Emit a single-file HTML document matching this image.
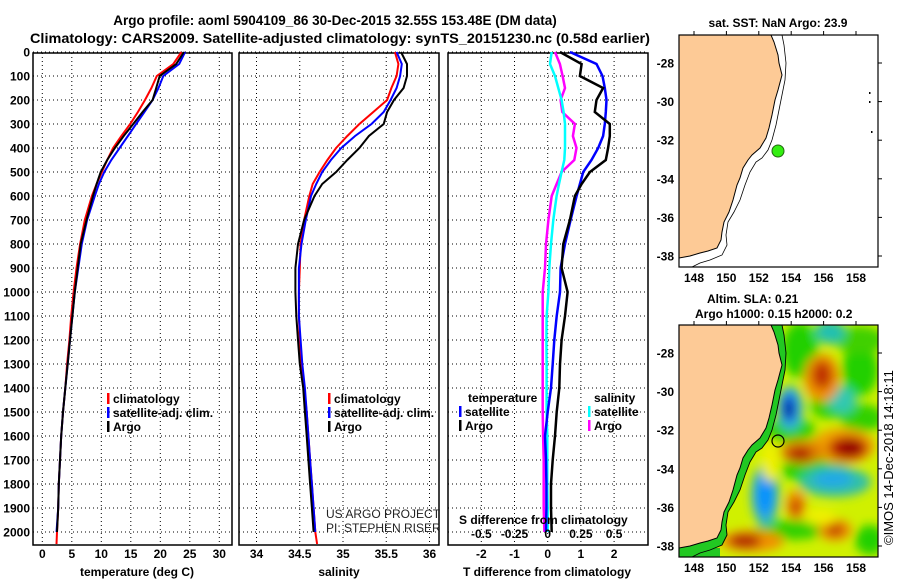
<!DOCTYPE html>
<html><head><meta charset="utf-8"><style>
html,body{margin:0;padding:0;background:#fff;}
svg{display:block;font-family:"Liberation Sans",Arial,sans-serif;}
</style></head><body>
<svg id="chart" width="900" height="580" viewBox="0 0 900 580" xmlns="http://www.w3.org/2000/svg">
<defs>
<clipPath id="m1clip"><rect x="679" y="35" width="199" height="232"/></clipPath>
<clipPath id="m2clip"><rect x="679" y="325" width="199" height="232"/></clipPath>
<filter id="blur" x="-50%" y="-50%" width="200%" height="200%"><feGaussianBlur stdDeviation="5"/></filter>
</defs>
<text x="335" y="25" text-anchor="middle" font-weight="bold" font-size="13.5">Argo profile: aoml 5904109_86 30-Dec-2015 32.55S 153.48E (DM data)</text>
<text x="30" y="43" font-weight="bold" font-size="13.5" textLength="620" lengthAdjust="spacingAndGlyphs">Climatology: CARS2009. Satellite-adjusted climatology: synTS_20151230.nc (0.58d earlier)</text>
<g id="panels"></g>
<g id="maps"></g>
</svg>
<script>
// ---- profile data ----
const depths = [0,50,100,150,200,250,300,350,400,450,500,550,600,700,800,900,1000,1100,1200,1300,1400,1500,1600,1700,1800,1900,2000,2050];
const depthTicks = [0,100,200,300,400,500,600,700,800,900,1000,1100,1200,1300,1400,1500,1600,1700,1800,1900,2000];
const tempClim = [23.6,22.2,19.4,18.5,17.4,16.2,14.9,13.4,12.0,11.0,10.1,9.2,8.4,7.2,6.4,5.8,5.3,4.9,4.6,4.2,3.9,3.5,3.2,3.0,2.8,2.7,2.5,2.4];
const tempSat = [24.2,23.2,20.5,19.7,18.7,17.3,15.9,14.5,13.1,11.7,10.5,9.6,8.9,7.6,6.7,6.1,5.5,5.1,4.7,4.3,3.9,3.5,3.2,3.0,2.8,2.7,2.4,null];
const tempArgo = [24.0,22.7,19.9,19.3,18.7,17.0,15.4,13.8,12.3,11.0,9.9,9.2,8.6,7.5,6.5,6.0,5.5,5.1,4.7,4.3,3.9,3.5,3.2,3.0,2.8,2.7,2.5,null];
const salClim = [35.60,35.64,35.62,35.56,35.51,35.35,35.19,35.05,34.92,34.82,34.73,34.65,34.61,34.55,34.51,34.50,34.49,34.49,34.50,34.52,34.55,34.58,34.60,34.62,34.64,34.66,34.68,34.70];
const salSat = [35.62,35.68,35.66,35.62,35.55,35.47,35.33,35.14,34.98,34.86,34.76,34.69,34.63,34.57,34.52,34.49,34.49,34.49,34.51,34.53,34.56,34.58,34.60,34.62,34.64,34.66,34.68,null];
const salArgo = [35.67,35.74,35.74,35.70,35.59,35.51,35.47,35.30,35.19,35.05,34.92,34.76,34.67,34.55,34.48,34.45,34.45,34.46,34.48,34.50,34.54,34.56,34.58,34.60,34.62,34.64,34.66,null];
const dTArgo = [0.37,1.02,0.97,1.67,1.47,1.42,1.87,1.87,1.82,1.75,1.27,1.02,0.82,0.67,0.47,0.42,0.6,0.52,0.42,0.37,0.35,0.27,0.22,0.15,0.1,0.1,0.12,null];
const dTSat = [0.67,1.47,1.65,1.72,1.77,1.75,1.72,1.67,1.52,1.32,1.07,0.97,0.87,0.69,0.52,0.39,0.37,0.27,0.2,0.15,0.1,0.0,-0.08,-0.05,-0.04,-0.04,-0.05,null];
const dSArgo = [0.055,0.092,0.112,0.13,0.097,0.11,0.205,0.19,0.217,0.2,0.105,0.067,0.03,0.005,-0.013,-0.02,-0.038,-0.038,-0.038,-0.038,-0.038,-0.038,-0.035,-0.03,-0.03,-0.03,-0.025,null];
const dSSat = [0.03,0.017,0.055,0.08,0.105,0.12,0.13,0.13,0.13,0.125,0.105,0.085,0.067,0.042,0.025,0.012,0.005,-0.008,-0.01,-0.008,-0.008,-0.008,-0.003,-0.003,-0.003,0,0,null];
const tempTicks = [0,5,10,15,20,25,30];
const salTicks = [34,34.5,35,35.5,36];
const salTickLabels = ["34","34.5","35","35.5","36"];
const dTTicks = [-2,-1,0,1,2];
const dSTickVals = [-0.5,-0.25,0,0.25,0.5];
const dSTickLabels = ["-0.5","-0.25","0","0.25","0.5"];

const NS="http://www.w3.org/2000/svg";
function mk(tag, attrs, parent){const e=document.createElementNS(NS,tag);for(const k in attrs)e.setAttribute(k,attrs[k]);parent.appendChild(e);return e;}
const yD = d => 52 + 0.24*d;
const xT = t => 42.3 + 5.9*t;
const xS = s => 256.5 + 86.5*(s-34);
const xDT = v => 547.7 + 33.2*v;
const xDS = v => 547.7 + 132.8*v;
const TOP=53, BOT=545;
const panels=document.getElementById('panels');

function frame(x0,x1,name,vx){
  const g=mk('g',{},panels);
  
  
  depthTicks.forEach(d=>{
    const gl=mk('line',{x1:x0,x2:x1,y1:yD(d),y2:yD(d),stroke:'#000','stroke-width':1,'stroke-dasharray':'1,3'},g);
    
    
  });
  vx.forEach(x=>{
    const gl=mk('line',{x1:x,x2:x,y1:TOP,y2:BOT,stroke:'#000','stroke-width':1,'stroke-dasharray':'1,3'},g);
    
    
  });
  const r=mk('rect',{x:x0,y:TOP,width:x1-x0,height:BOT-TOP,fill:'none',stroke:'#000','stroke-width':1.5},g);
  
  
  return g;
}
function series(g,vals,xf,color,name,w){
  let pts=[];
  vals.forEach((v,i)=>{ if(v!==null) pts.push(xf(v).toFixed(1)+','+yD(depths[i]).toFixed(1)); });
  const p=mk('polyline',{points:pts.join(' '),fill:'none',stroke:color,'stroke-width':w||2,'stroke-linejoin':'miter'},g);
  
  
}
function text(g,x,y,s,opts,name){
  const t=mk('text',Object.assign({x:x,y:y,'font-weight':'bold','font-size':12},opts||{}),g);
  t.textContent=s;
  
  
  return t;
}
function legendItem(g,x,y,color,label,name){
  const b=mk('rect',{x:x,y:y-10,width:2.5,height:11,fill:color},g);
  
  
  text(g,x+6,y,label,{},name+'-label');
}

const ya=mk('g',{},panels);


depthTicks.forEach(d=>text(ya,30,yD(d)+4.5,String(d),{'text-anchor':'end'},'depth-tick-label'));

const g1=frame(33,232,'temperature-panel',tempTicks.map(xT));
series(g1,tempClim,xT,'#ff0000','temp-climatology-line');
series(g1,tempSat,xT,'#0000ff','temp-satellite-line');
series(g1,tempArgo,xT,'#000000','temp-argo-line');
tempTicks.forEach(t=>text(g1,xT(t),558,String(t),{'text-anchor':'middle'},'temp-tick-label'));
text(g1,137,576,'temperature (deg C)',{'text-anchor':'middle'},'temp-axis-title');
legendItem(g1,107,403,'#ff0000','climatology','legend-climatology');
legendItem(g1,107,417,'#0000ff','satellite-adj. clim.','legend-satellite');
legendItem(g1,107,431,'#000000','Argo','legend-argo');

const g2=frame(239,439,'salinity-panel',salTicks.map(xS));
series(g2,salClim,xS,'#ff0000','sal-climatology-line');
series(g2,salSat,xS,'#0000ff','sal-satellite-line');
series(g2,salArgo,xS,'#000000','sal-argo-line');
salTicks.forEach((s,i)=>text(g2,xS(s),558,salTickLabels[i],{'text-anchor':'middle'},'sal-tick-label'));
text(g2,339,576,'salinity',{'text-anchor':'middle'},'sal-axis-title');
legendItem(g2,328,403,'#ff0000','climatology','legend-climatology');
legendItem(g2,328,417,'#0000ff','satellite-adj. clim.','legend-satellite');
legendItem(g2,328,431,'#000000','Argo','legend-argo');
text(g2,326,518,'US ARGO PROJECT',{'font-weight':'normal','fill':'#222'},'credit-project');
text(g2,326,532,'PI: STEPHEN RISER',{'font-weight':'normal','fill':'#222'},'credit-pi');

const g3=frame(448,648,'difference-panel',dTTicks.map(xDT));
series(g3,dSArgo,xDS,'#ff00ff','sal-diff-argo-line',2.5);
series(g3,dSSat,xDS,'#00ffff','sal-diff-satellite-line',2.5);
series(g3,dTSat,xDT,'#0000ff','temp-diff-satellite-line',2.5);
series(g3,dTArgo,xDT,'#000000','temp-diff-argo-line',2.5);
dTTicks.forEach(t=>text(g3,xDT(t),558,String(t),{'text-anchor':'middle'},'dT-tick-label'));
text(g3,547,576,'T difference from climatology',{'text-anchor':'middle'},'dT-axis-title');
text(g3,459,524,'S difference from climatology',{},'dS-axis-title');
dSTickVals.forEach((s,i)=>text(g3,xDS(s),538,dSTickLabels[i],{'text-anchor':'middle'},'dS-tick-label'));
text(g3,468,402,'temperature',{},'legend-temperature-heading');
legendItem(g3,459,416,'#0000ff','satellite','legend-temp-satellite');
legendItem(g3,459,430,'#000000','Argo','legend-temp-argo');
text(g3,594,402,'salinity',{},'legend-salinity-heading');
legendItem(g3,588,416,'#00ffff','satellite','legend-sal-satellite');
legendItem(g3,588,430,'#ff00ff','Argo','legend-sal-argo');

// ---- maps ----
const coast=[[771,35],[774,42],[778,55],[779,63],[782,75],[778,90],[775,100],[772,115],[769,128],[766,138],[760,148],[752,155],[748,160],[743,168],[740,178],[737,185],[733,200],[729,212],[724,222],[722,232],[721,240],[717,248],[708,251],[700,253],[690,256],[679,258]];
const contour=[[782,35],[784,45],[786,63],[785,80],[782,95],[779,110],[776,125],[772,140],[768,150],[762,158],[756,162],[750,172],[745,185],[740,200],[734,212],[728,222],[726,235],[727,245],[722,255],[710,260],[700,263],[692,267]];
const lonTicks=[148,150,152,154,156,158];
const latTicks=[-28,-30,-32,-34,-36,-38];
const maps=document.getElementById('maps');
const lonX = lon => 694 + 16.2*(lon-148);
const latY = (lat,off) => 63 + off + 19.3*(-28-lat);
const pts=(arr,off)=>arr.map(p=>p[0]+','+(p[1]+off)).join(' ');

function mapAxes(g,off,name){
  const top=35+off, bot=267+off;
  lonTicks.forEach(l=>{
    mk('line',{x1:lonX(l),x2:lonX(l),y1:top,y2:top-4,stroke:'#000'},g);
    text(g,lonX(l),bot+15,String(l),{'text-anchor':'middle'},name+'-lon-label');
  });
  latTicks.forEach(l=>{
    mk('line',{x1:878,x2:882,y1:latY(l,off),y2:latY(l,off),stroke:'#000'},g);
    text(g,674,latY(l,off)+4.5,String(l),{'text-anchor':'end'},name+'-lat-label');
  });
  const r=mk('rect',{x:679,y:top,width:199,height:232,fill:'none',stroke:'#000','stroke-width':1.2},g);
  
  
}

const m1=mk('g',{},maps);


const c1=mk('g',{'clip-path':'url(#m1clip)'},m1);
mk('rect',{x:679,y:35,width:199,height:232,fill:'#fff'},c1);
const land1=mk('polygon',{points:pts(coast,0)+' 679,35',fill:'#fdca96',stroke:'#000','stroke-width':1},c1);


mk('polyline',{points:pts(contour,0),fill:'none',stroke:'#000','stroke-width':0.8},c1);
[[869,92],[869,101],[871,131]].forEach(p=>mk('rect',{x:p[0],y:p[1],width:1.5,height:2,fill:'#000'},c1));
const pt1=mk('circle',{cx:778,cy:151,r:6,fill:'#33ee11',stroke:'#226611','stroke-width':1},m1);


mapAxes(m1,0,'sst-map');
text(m1,778,27,'sat. SST: NaN Argo: 23.9',{'text-anchor':'middle'},'sst-map-title');

const m2=mk('g',{},maps);


const c2=mk('g',{'clip-path':'url(#m2clip)'},m2);
mk('rect',{x:679,y:325,width:199,height:232,fill:'#d0f000'},c2);
const blobs=mk('g',{filter:'url(#blur)'},c2);


const bl=[
 [800,350,18,28,'#20d000'],[860,370,18,26,'#20d000'],[860,340,25,14,'#40d000'],[790,430,26,12,'#30d000'],[862,418,22,14,'#30d000'],
 [815,470,34,12,'#20d000'],[790,530,36,10,'#30d000'],[870,540,15,15,'#20d000'],[830,405,20,14,'#30d000'],
 [830,332,15,12,'#20c0b0'],[842,400,14,14,'#30c8b0'],
 [790,408,13,22,'#30b0e0'],[789,408,7,14,'#0040d0'],[789,410,4,8,'#001890'],
 [822,378,18,24,'#f09000'],[822,375,10,14,'#c03000'],
 [843,446,32,18,'#f0a000'],[848,448,20,12,'#c02000'],[850,448,12,7,'#900000'],
 [802,452,22,12,'#e08000'],[800,454,12,7,'#b02000'],
 [835,482,36,15,'#30c0a8'],[833,479,20,8,'#20a8e8'],
 [765,495,14,30,'#30b0d0'],[765,495,8,20,'#0090ff'],
 [796,505,10,15,'#f09000'],[796,507,5,8,'#c03000'],
 [752,541,32,11,'#f09000'],[745,541,16,7,'#b02000'],[835,530,17,11,'#f09000'],[835,530,9,6,'#c04000'],
 [770,462,8,20,'#f0f000'],[820,517,16,8,'#f0f000']
];
bl.forEach(b=>mk('ellipse',{cx:b[0],cy:b[1],rx:b[2],ry:b[3],fill:b[4]},blobs));
mk('polygon',{points:pts(coast,290)+' '+pts(contour.slice().reverse(),290),fill:'#22c822'},c2);
mk('polygon',{points:'679,548 720,548 720,557 679,557',fill:'#22c822'},c2);
const land2=mk('polygon',{points:pts(coast,290)+' 679,325',fill:'#fdca96',stroke:'#000','stroke-width':1},c2);


mk('polyline',{points:pts(contour,290),fill:'none',stroke:'#000','stroke-width':0.9},c2);
const pt2=mk('circle',{cx:778,cy:441,r:6,fill:'none',stroke:'#000','stroke-width':1.2},m2);


mapAxes(m2,290,'sla-map');
text(m2,707,303,'Altim. SLA: 0.21',{},'sla-map-title');
text(m2,695,318,'Argo h1000: 0.15 h2000: 0.2',{},'sla-map-subtitle');
text(m2,0,0,'©IMOS 14-Dec-2018 14:18:11',{'font-weight':'normal','font-size':13,'transform':'translate(893,545) rotate(-90)'},'imos-timestamp');
</script>
</body></html>
